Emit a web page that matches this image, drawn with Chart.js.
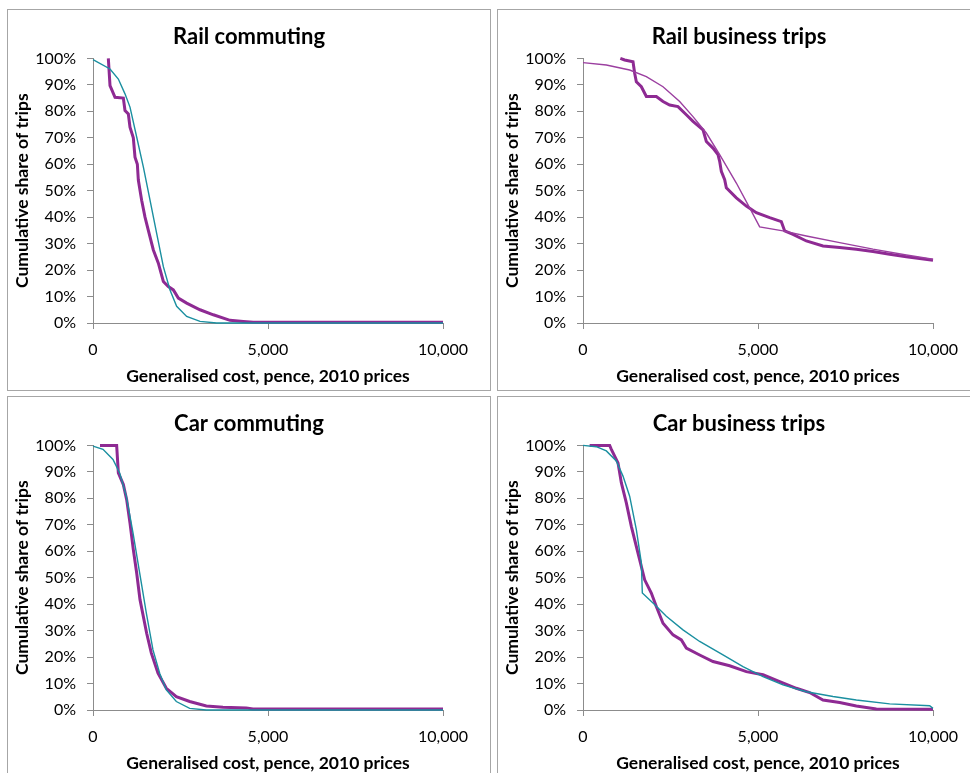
<!DOCTYPE html>
<html>
<head>
<meta charset="utf-8">
<script src="https://cdn.jsdelivr.net/npm/chart.js@4.4.0/dist/chart.umd.min.js"></script>
<style>
  html, body { margin: 0; padding: 0; background: #ffffff; width: 970px; height: 773px; overflow: hidden; position: relative; }
  .panel { position: absolute; width: 484px; height: 382px; border: 1px solid #a6a6a6; box-sizing: border-box; background: #fff; }
  .panel canvas { display: block; }
</style>
</head>
<body>
<div class="panel" style="left:7px; top:9px;"><canvas id="c1" width="482" height="380"></canvas></div>
<div class="panel" style="left:497px; top:9px;"><canvas id="c2" width="482" height="380"></canvas></div>
<div class="panel" style="left:7px; top:396px;"><canvas id="c3" width="482" height="380"></canvas></div>
<div class="panel" style="left:497px; top:396px;"><canvas id="c4" width="482" height="380"></canvas></div>
<script>
// ---------- Data (generalised cost in pence, cumulative share of trips in %) ----------
const titles = ["Rail commuting", "Rail business trips", "Car commuting", "Car business trips"];
const xAxisTitle = "Generalised cost, pence, 2010 prices";
const yAxisTitle = "Cumulative share of trips";
const xTicks = [0, 5000, 10000];
const yTicks = [0, 10, 20, 30, 40, 50, 60, 70, 80, 90, 100];

// Rail commuting
const railCommObsX = [438, 486, 629, 867, 914, 1010, 1057, 1152, 1200, 1267, 1295, 1390, 1486, 1581, 1724, 1867, 2010, 2152, 2295, 2438, 2676, 3057, 3438, 3914, 4295, 4580, 10000];
const railCommObsY = [100, 89.7, 85.3, 85, 80.3, 79, 74, 70, 62.7, 60, 54, 46.4, 40, 35, 27.6, 22.6, 15.7, 13.8, 12.5, 9.4, 7.5, 5, 3.1, 1, 0.6, 0.25, 0.25];
const railCommModX = [0, 486, 724, 914, 1057, 1248, 1438, 1629, 1819, 2010, 2200, 2390, 2676, 3057, 3533, 10000];
const railCommModY = [99.5, 96, 92.2, 86.6, 81.6, 70.3, 59, 46.4, 33.9, 21.3, 12.5, 6.3, 2.5, 0.6, 0, 0];

// Rail business trips
const railBusObsX = [1067, 1190, 1429, 1476, 1524, 1667, 1810, 2095, 2286, 2476, 2714, 2952, 3143, 3429, 3524, 3714, 3857, 3905, 3952, 4048, 4095, 4381, 4667, 4952, 5333, 5667, 5762, 6000, 6381, 6857, 7333, 7810, 8286, 8762, 9238, 10000];
const railBusObsY = [100, 99.4, 98.7, 94.4, 91.2, 89.3, 85.6, 85.6, 83.7, 82.4, 81.8, 78.7, 76.2, 73, 68.6, 66.1, 63.6, 61.1, 57.3, 54.2, 51.1, 47.3, 44.2, 41.7, 39.8, 38.3, 34.8, 33.5, 31, 29.1, 28.5, 27.9, 27, 26, 25, 23.7];
const railBusModX = [0, 667, 1333, 1810, 2286, 2762, 3143, 3524, 3905, 4381, 4762, 5048, 5714, 6381, 7333, 8286, 9238, 10000];
const railBusModY = [98.4, 97.5, 95.6, 93.1, 89.3, 83.7, 78, 71.8, 63.6, 52.9, 43.5, 36.3, 34.8, 32.9, 30.4, 27.9, 25.7, 24.1];

// Car commuting
const carCommObsX = [200, 676, 724, 867, 962, 1057, 1152, 1248, 1343, 1533, 1667, 1857, 2095, 2381, 2762, 3238, 3714, 4381, 4571, 10000];
const carCommObsY = [100, 100, 89.6, 85.2, 79.5, 70.7, 60.6, 51.8, 41.7, 29, 21.5, 13.9, 8.2, 5, 3.2, 1.5, 1, 0.8, 0.4, 0.4];
const carCommModX = [0, 286, 571, 762, 952, 1143, 1333, 1524, 1714, 1905, 2095, 2381, 2762, 3238, 10000];
const carCommModY = [99.7, 98.5, 94.7, 89.6, 80.8, 66.9, 51.8, 36.6, 22.7, 13.9, 7.6, 3.2, 0.6, 0, 0];

// Car business trips
const carBusObsX = [190, 762, 810, 1000, 1095, 1238, 1381, 1571, 1762, 1952, 2095, 2286, 2571, 2810, 2952, 3333, 3714, 4190, 4667, 5143, 5619, 6095, 6476, 6857, 7333, 7810, 8381, 10000];
const carBusObsY = [100, 100, 98.5, 93.4, 85.9, 78.3, 69.4, 59.3, 49.2, 44.2, 39.1, 32.8, 28.4, 26.5, 23.4, 20.8, 18.3, 16.7, 14.5, 13.3, 10.7, 8.2, 6.6, 3.8, 2.8, 1.5, 0.4, 0.25];
const carBusModX = [0, 381, 667, 952, 1143, 1333, 1524, 1667, 1695, 2000, 2381, 2857, 3333, 4000, 4571, 5143, 5714, 6381, 7143, 7810, 8762, 9905, 10000];
const carBusModY = [100, 99.5, 97.9, 94.1, 88.4, 80.8, 68.2, 55.6, 44.2, 40.4, 35.4, 30.3, 25.9, 20.8, 16.4, 12.6, 9.5, 6.9, 5.1, 3.8, 2.3, 1.6, 0.6];

// ---------- Styles ----------
const purple = "#8e2a93";
const purpleThin = "#9b3fa0";
const teal = "#1a8fa0";
const axisGrey = "#8c8c8c";
const FONT = "Lato, 'Open Sans', sans-serif";

function pts(xs, ys) { return xs.map((x, i) => ({ x: x, y: ys[i] })); }

const panels = [
  { id: "c1", title: titles[0], obs: pts(railCommObsX, railCommObsY), mod: pts(railCommModX, railCommModY), modColor: teal },
  { id: "c2", title: titles[1], obs: pts(railBusObsX, railBusObsY), mod: pts(railBusModX, railBusModY), modColor: purpleThin },
  { id: "c3", title: titles[2], obs: pts(carCommObsX, carCommObsY), mod: pts(carCommModX, carCommModY), modColor: teal },
  { id: "c4", title: titles[3], obs: pts(carBusObsX, carBusObsY), mod: pts(carBusModX, carBusModY), modColor: teal }
];

panels.forEach(p => {
  new Chart(document.getElementById(p.id), {
    type: "scatter",
    data: {
      datasets: [
        { label: "Observed", data: p.obs, showLine: true, borderColor: purple, borderWidth: 3, pointRadius: 0, tension: 0, fill: false, clip: false, order: 2 },
        { label: "Modelled", data: p.mod, showLine: true, borderColor: p.modColor, borderWidth: 1.4, pointRadius: 0, tension: 0, fill: false, clip: false, order: 1 }
      ]
    },
    options: {
      responsive: false,
      animation: false,
      layout: { padding: 0 },
      plugins: {
        legend: { display: false },
        tooltip: { enabled: false },
        title: {
          display: true,
          text: p.title,
          color: "#000",
          font: { family: FONT, size: 22, weight: "bold" },
          padding: { top: 14, bottom: 8 }
        }
      },
      scales: {
        x: {
          type: "linear",
          min: 0, max: 10000,
          afterBuildTicks: s => { s.ticks = xTicks.map(v => ({ value: v })); },
          afterFit: s => { s.height = 67; },
          border: { display: true, color: axisGrey, width: 1 },
          grid: { display: true, drawOnChartArea: false, drawTicks: true, tickLength: 6, color: axisGrey },
          ticks: {
            color: "#000",
            font: { family: FONT, size: 16 },
            padding: 11,
            maxRotation: 0,
            callback: v => v.toLocaleString("en-GB")
          },
          title: {
            display: true,
            text: xAxisTitle,
            color: "#000",
            font: { family: FONT, size: 17.5, weight: "bold" },
            padding: { top: 0, bottom: 3.5 }
          }
        },
        y: {
          type: "linear",
          min: 0, max: 100,
          afterBuildTicks: s => { s.ticks = yTicks.map(v => ({ value: v })); },
          afterFit: s => { s.width = 85; },
          border: { display: true, color: axisGrey, width: 1 },
          grid: { display: true, drawOnChartArea: false, drawTicks: true, tickLength: 6, color: axisGrey },
          ticks: {
            color: "#000",
            font: { family: FONT, size: 16 },
            padding: 11,
            callback: v => v + "%"
          },
          title: {
            display: true,
            text: yAxisTitle,
            color: "#000",
            font: { family: FONT, size: 17.5, weight: "bold" },
            padding: { top: 3.5, bottom: 0 }
          }
        },
        spacer: {
          type: "linear",
          position: "right",
          min: 0, max: 100,
          afterFit: s => { s.width = 47; },
          border: { display: false },
          grid: { display: false, drawTicks: false },
          ticks: { display: false }
        }
      }
    }
  });
});
</script>
</body>
</html>
